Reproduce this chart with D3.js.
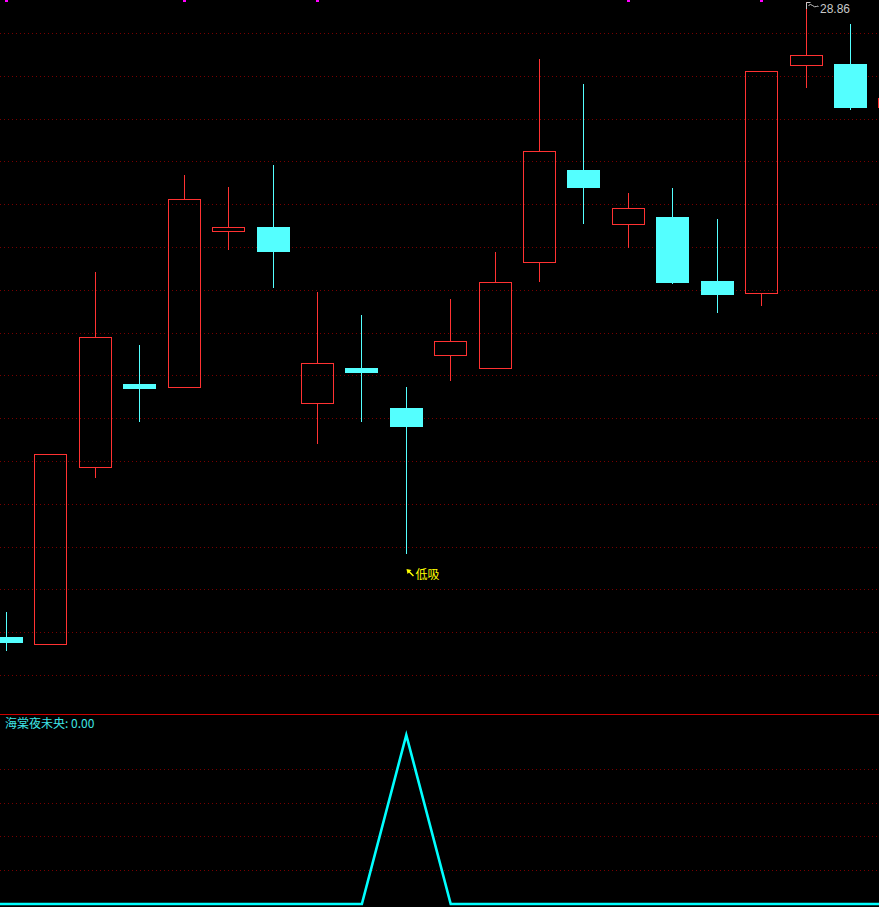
<!DOCTYPE html>
<html>
<head>
<meta charset="utf-8">
<script src="https://cdn.jsdelivr.net/npm/d3@7/dist/d3.min.js"></script>
<style>
  html, body { margin: 0; padding: 0; background: #000; overflow: hidden; }
  svg { display: block; }
</style>
</head>
<body>
<svg id="chart" width="879" height="907"></svg>
<script>
// ---------- data ----------
const days   = d3.range(0, 21);
const open   = [21.44, 21.36, 23.43, 24.40, 24.36, 26.19, 26.23, 24.18, 24.59, 24.12, 24.74, 24.59, 25.83, 26.90, 26.27, 26.35, 25.60, 25.46, 28.13, 28.14, 27.63];
const high   = [21.74, 23.58, 25.71, 24.86, 26.84, 26.70, 26.96, 25.47, 25.21, 24.36, 25.39, 25.94, 28.20, 27.90, 26.63, 26.69, 26.33, 28.06, 28.86, 28.61, 27.80];
const low    = [21.28, 21.36, 23.30, 23.96, 24.36, 25.96, 25.52, 23.70, 23.95, 22.41, 24.44, 24.59, 25.59, 26.27, 25.99, 25.57, 25.23, 25.31, 27.86, 27.60, 27.60];
const close  = [21.39, 23.58, 24.95, 24.35, 26.56, 26.23, 25.95, 24.64, 24.54, 23.91, 24.90, 25.59, 27.12, 26.70, 26.45, 25.59, 25.45, 28.06, 28.24, 27.64, 27.74];
// indicator 海棠夜未央 (day -1 .. 20)
const signalDays = d3.range(-1, 21);
const signal = [0, 0, 0, 0, 0, 0, 0, 0, 0, 0, 5, 0, 0, 0, 0, 0, 0, 0, 0, 0, 0, 0];
const priceGrid  = d3.range(21.0, 28.51, 0.5);
const signalGrid = [1, 2, 3, 4];
const periodMarks = [0, 4, 7, 14, 17];   // month-boundary markers
const maxLabel = "28.86";
const maxDay = 18;
const signalDay = 9;
const signalText = "低吸";
const indicatorName = "海棠夜未央";

// ---------- layout ----------
const W = 879, H = 907;
const UP = "#ff3232", DOWN = "#54ffff";
const svg = d3.select("#chart");
svg.append("rect").attr("width", W).attr("height", H).attr("fill", "#000");

const x  = d3.scaleLinear().domain([0, 19]).range([6.5, 850.5]);
const y  = d3.scaleLinear().domain([21.0, 28.5]).range([675, 33]);
const yI = d3.scaleLinear().domain([0, 5]).range([904, 735]);
const cx = i => Math.floor(x(i)) + 0.5;

// grid lines
const grid = svg.append("g").attr("shape-rendering", "crispEdges");
grid.selectAll("line.pg").data(priceGrid).join("line")
  .attr("x1", 0).attr("x2", W)
  .attr("y1", d => Math.round(y(d)) + 0.5).attr("y2", d => Math.round(y(d)) + 0.5)
  .attr("stroke", "#780000").attr("stroke-width", 1).attr("stroke-dasharray", "1,3");
grid.selectAll("line.sg").data(signalGrid).join("line")
  .attr("x1", 0).attr("x2", W)
  .attr("y1", d => Math.round(yI(d)) + 0.5).attr("y2", d => Math.round(yI(d)) + 0.5)
  .attr("stroke", "#780000").attr("stroke-width", 1).attr("stroke-dasharray", "1,3");

// separator
svg.append("line").attr("x1", 0).attr("x2", W).attr("y1", 714.5).attr("y2", 714.5)
  .attr("stroke", "#cc0000").attr("stroke-width", 1);

// period markers
svg.append("g").selectAll("rect").data(periodMarks).join("rect")
  .attr("x", d => Math.floor(x(d)) - 1).attr("y", 0).attr("width", 3).attr("height", 2)
  .attr("fill", "#ff00ff");

// candles
const cg = svg.append("g");
days.forEach(i => {
  const o = open[i], c = close[i], h = high[i], l = low[i];
  const up = c >= o;
  const px = cx(i);
  const yTop = Math.round(y(Math.max(o, c)));
  const yBot = Math.round(y(Math.min(o, c)));
  const yH = Math.round(y(h)), yL = Math.round(y(l));
  if (up) {
    if (yH < yTop) cg.append("line").attr("x1", px).attr("x2", px).attr("y1", yH).attr("y2", yTop).attr("stroke", UP);
    if (yL > yBot) cg.append("line").attr("x1", px).attr("x2", px).attr("y1", yBot + 1).attr("y2", yL).attr("stroke", UP);
    cg.append("rect").attr("x", px - 16).attr("y", yTop + 0.5)
      .attr("width", 32).attr("height", Math.max(1, yBot - yTop))
      .attr("fill", "none").attr("stroke", UP).attr("stroke-width", 1);
  } else {
    cg.append("line").attr("x1", px).attr("x2", px).attr("y1", yH).attr("y2", yL).attr("stroke", DOWN);
    cg.append("rect").attr("x", px - 16.5).attr("y", yTop)
      .attr("width", 33).attr("height", Math.max(1, yBot - yTop + 1))
      .attr("fill", DOWN);
  }
});

// max price label with flag
const fx = cx(maxDay), fy = Math.round(y(high[maxDay]));
svg.append("path")
  .attr("d", `M${fx},${fy + 7} V${fy + 0.5} H${fx + 4} M${fx + 2},${fy + 3.5} q2,-2 4,0 t4,1 t2,0`)
  .attr("fill", "none").attr("stroke", "#c8c8c8").attr("stroke-width", 1);
svg.append("text").attr("x", fx + 13.5).attr("y", fy + 10.5)
  .attr("fill", "#c8c8c8").attr("font-family", "Liberation Sans, Arial, sans-serif")
  .attr("font-size", 12).text(maxLabel);

// signal label 低吸
const sx = cx(signalDay), sy = Math.round(y(low[signalDay]));
svg.append("path")
  .attr("d", `M${sx + 7},${sy + 22} L${sx + 2},${sy + 17}`)
  .attr("stroke", "#ffff00").attr("stroke-width", 1.5).attr("fill", "none");
svg.append("path")
  .attr("d", `M${sx},${sy + 15} L${sx + 5},${sy + 16} L${sx + 1},${sy + 20} Z`)
  .attr("fill", "#ffff00");
svg.append("text").attr("x", sx + 9).attr("y", sy + 25)
  .attr("fill", "#ffff00").attr("font-family", "Noto Sans CJK SC, sans-serif")
  .attr("font-size", 12).text(signalText);

// indicator line
const line = d3.line().x(d => d[0]).y(d => d[1]);
const pts = signalDays.map((dd, k) => [x(dd), yI(signal[k])]);
svg.append("path").attr("d", line(pts))
  .attr("fill", "none").attr("stroke", "#00ffff").attr("stroke-width", 2.6)
  .attr("stroke-linejoin", "miter");

// indicator title
svg.append("text").attr("x", 5).attr("y", 728)
  .attr("fill", "#3fe6e6").attr("font-family", "Noto Sans CJK SC, sans-serif")
  .attr("font-size", 12).text(indicatorName + ": " + d3.format(".2f")(signal[signal.length - 1]));
</script>
</body>
</html>
